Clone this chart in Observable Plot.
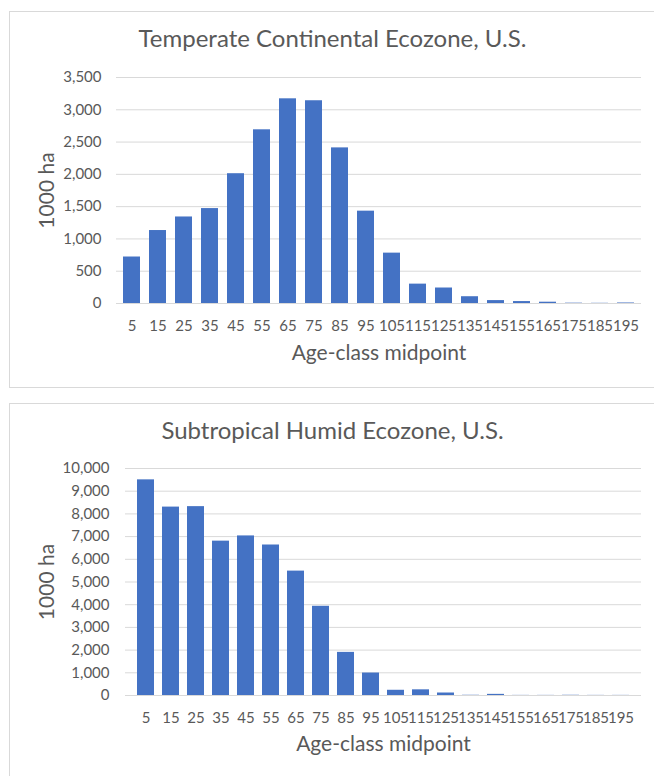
<!DOCTYPE html>
<html><head><meta charset="utf-8">
<script src="https://cdn.jsdelivr.net/npm/d3@7"></script>
<script src="https://cdn.jsdelivr.net/npm/@observablehq/plot@0.6"></script>
<style>
html,body{margin:0;padding:0;background:#fff;overflow:hidden;font-family:Lato,sans-serif;}
.panel{position:absolute;left:9px;width:700px;border:1px solid #d9d9d9;background:#fff;}
.title{color:#595959;font-size:24px;line-height:24px;text-align:center;width:645px;height:36px;padding-top:14px;white-space:nowrap;}
.panel svg{display:block;}
</style></head><body>
<div class="panel" id="p1" style="top:11px;height:375px"><div class="title">Temperate Continental Ecozone, U.S.</div></div>
<div class="panel" id="p2" style="top:403px;height:420px"><div class="title">Subtropical Humid Ecozone, U.S.</div></div>
<script>
const ageClasses = ["5","15","25","35","45","55","65","75","85","95","105","115","125","135","145","155","165","175","185","195"];
const temperateValues = [720,1130,1340,1470,2010,2690,3170,3140,2410,1430,780,300,240,105,45,30,20,5,3,8];
const subtropicalValues = [9500,8300,8320,6800,7030,6630,5480,3930,1900,990,230,250,110,10,50,5,5,10,5,5];
const temperateTicks = [0,500,1000,1500,2000,2500,3000,3500];
const subtropicalTicks = [0,1000,2000,3000,4000,5000,6000,7000,8000,9000,10000];
const xTitle = "Age-class midpoint";
const yTitle = "1000 ha";

function chart({values, ticks, height, marginLeft, marginTop, marginBottom, yPad, xTitleDy, yTitleDx}) {
  const data = ageClasses.map((a, i) => ({age: a, value: values[i]}));
  return Plot.plot({
    width: 645, height, marginLeft, marginRight: 14, marginTop, marginBottom,
    style: {fontFamily: "Lato, sans-serif", fontSize: "15px", color: "#595959", background: "transparent"},
    x: {domain: ageClasses, paddingInner: 1/3, paddingOuter: 1/6},
    y: {domain: [0, ticks[ticks.length - 1]]},
    marks: [
      Plot.gridY(ticks, {stroke: "#d9d9d9", strokeOpacity: 1, strokeWidth: 1}),
      Plot.barY(data, {x: "age", y: "value", fill: "#4472C4"}),
      Plot.axisX({tickSize: 0, tickPadding: 17, label: null, fill: "#595959"}),
      Plot.axisY(ticks, {tickSize: 0, tickPadding: yPad, label: null, tickFormat: d3.format(","), fill: "#595959"}),
      Plot.text([xTitle], {frameAnchor: "bottom", textAnchor: "middle", dy: xTitleDy, fontSize: 21, fill: "#595959"}),
      Plot.text([yTitle], {frameAnchor: "left", textAnchor: "middle", rotate: -90, dx: yTitleDx, fontSize: 21, fill: "#595959"})
    ]
  });
}

document.getElementById("p1").appendChild(chart({
  values: temperateValues, ticks: temperateTicks, height: 325,
  marginLeft: 106, marginTop: 15, marginBottom: 84, yPad: 15, xTitleDy: 56, yTitleDx: -69
}));
document.getElementById("p2").appendChild(chart({
  values: subtropicalValues, ticks: subtropicalTicks, height: 330,
  marginLeft: 115, marginTop: 14, marginBottom: 89, yPad: 16, xTitleDy: 55, yTitleDx: -78
}));
</script>
</body></html>
